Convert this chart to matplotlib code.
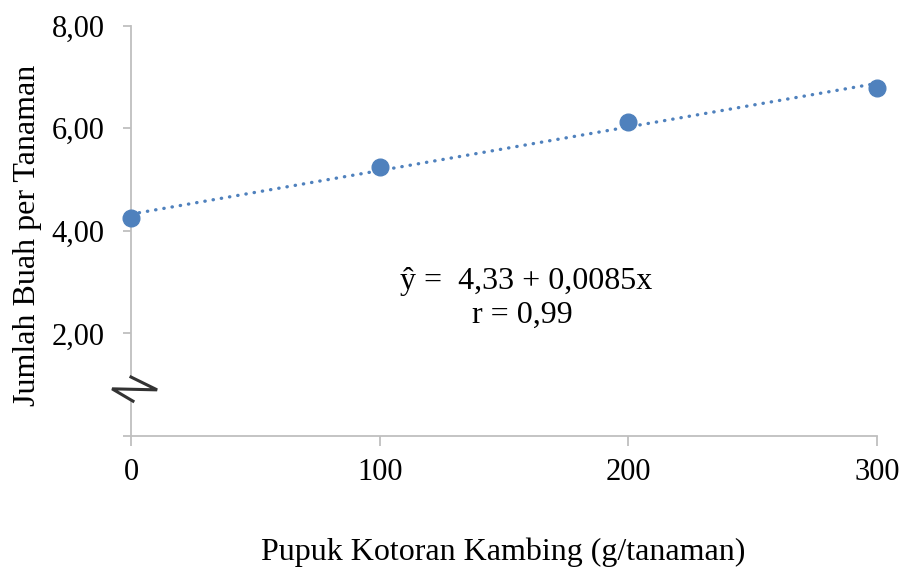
import numpy as np
import matplotlib
matplotlib.use("Agg")
import matplotlib.pyplot as plt
from matplotlib.patches import Rectangle

# data
dosis = [0, 100, 200, 300]
buah = [4.25, 5.24, 6.12, 6.79]
y_ticks = [0, 2, 4, 6, 8]
y_ticklabels = ["", "2,00", "4,00", "6,00", "8,00"]
x_ticks = [0, 100, 200, 300]
x_ticklabels = ["0", "100", "200", "300"]

blue = "#4F81BD"
axcol = "#BFBFBF"

plt.rcParams["font.family"] = ["Liberation Serif", "DejaVu Serif"]

fig = plt.figure(figsize=(9.04, 5.67), dpi=100)
ax = fig.add_axes([0.1449, 0.2310, 0.9701 - 0.1449, 0.9548 - 0.2310])

# garis tren (regresi linear)
b, a = np.polyfit(dosis, buah, 1)
xl = np.array([0, 300])
ax.plot(xl, a + b * xl, linestyle=(0, (0.1, 2.4)), color=blue, lw=2.4,
        dash_capstyle="round", zorder=2)
ax.plot(dosis, buah, "o", color=blue, ms=12, zorder=3, clip_on=False)

ax.set_xlim(0, 300)
ax.set_ylim(0, 8)
ax.set_xticks(x_ticks)
ax.set_xticklabels(x_ticklabels)
ax.set_yticks(y_ticks)
ax.set_yticklabels(y_ticklabels)

for s in ["top", "right"]:
    ax.spines[s].set_visible(False)
for s in ["left", "bottom"]:
    ax.spines[s].set_color(axcol)
    ax.spines[s].set_linewidth(1.3)
ax.tick_params(axis="x", colors=axcol, length=7, width=1.3, labelsize=22,
               labelcolor="black", pad=9)
ax.tick_params(axis="y", colors=axcol, length=6, width=1.3, labelsize=22,
               labelcolor="black", pad=13)

# tanda patah sumbu
ax.add_patch(Rectangle((-8.4, 0.68), 24, 0.47, facecolor="white",
                       edgecolor="none", clip_on=False, zorder=4))
ax.plot([0, 10.5, -7.6, 0.8], [1.15, 0.90, 0.92, 0.68], color="#333333",
        lw=2.2, clip_on=False, zorder=5, solid_joinstyle="miter")

ax.text(0.53, 0.358, "ŷ =  4,33 + 0,0085x", transform=ax.transAxes,
        ha="center", va="baseline", fontsize=23)
ax.text(0.525, 0.275, "r = 0,99", transform=ax.transAxes,
        ha="center", va="baseline", fontsize=23)

fig.text(0.557, 0.012, "Pupuk Kotoran Kambing (g/tanaman)", ha="center",
         va="baseline", fontsize=23)
fig.text(0.030, 0.5855, "Jumlah Buah per Tanaman", ha="center", va="center",
         rotation=90, fontsize=23)

fig.savefig("out.png", dpi=100)
